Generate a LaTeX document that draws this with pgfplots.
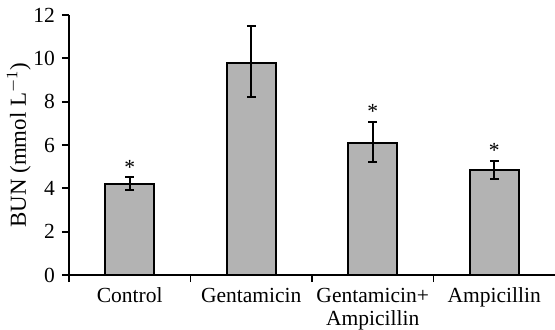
\documentclass[border=0pt]{standalone}
\usepackage{pgfplots}
\pgfplotsset{compat=1.18}
\usepackage{fontspec}
\setmainfont{Liberation Serif}
\definecolor{barfill}{RGB}{179,179,179}
\begin{document}
\begin{tikzpicture}
\path[use as bounding box] (-34.5bp,-27.5bp) rectangle (243bp,137.5bp);
\begin{axis}[
  at={(0,0)}, anchor=south west,
  scale only axis, width=243bp, height=130bp,
  xmin=-0.5, xmax=3.5, ymin=0, ymax=12,
  axis lines*=left,
  axis line style={line width=1pt, -},
  every tick/.style={black, line width=1pt},
  tick align=outside,
  major tick length=3.5bp,
  ytick={0,2,...,12},
  xtick={-0.5,0.5,1.5,2.5},
  xticklabels={},
  extra x ticks={0,1,2,3},
  extra x tick labels={Control,Gentamicin,{Gentamicin+\\Ampicillin},Ampicillin},
  extra x tick style={major tick length=0pt, tick label style={align=center, anchor=north, yshift=-3bp}},
  tick label style={font=\fontsize{10.8}{11.5}\selectfont},
  /pgf/number format/assume math mode=true,
  ylabel={BUN (mmol L$^{-1}$)},
  ylabel style={font=\fontsize{11.5}{14}\selectfont, at={(axis description cs:-0.103,0.5)}, anchor=center},
  clip=false,
]
\addplot[ybar, bar width=24.5bp, fill=barfill, draw=black, line width=1pt,
  error bars/.cd, y dir=both, y explicit,
  error bar style={line width=1pt, black},
  error mark options={rotate=90, mark size=2.2bp, line width=1pt, black}]
  table[x=x, y=y, y error plus=ep, y error minus=em] {
x y ep em
0 4.22 0.32 0.30
1 9.80 1.70 1.60
2 6.10 0.96 0.87
3 4.86 0.41 0.42
};
\addplot[draw=none, mark=none, nodes near coords={*}, point meta=explicit symbolic,
  every node near coord/.append style={anchor=south, font=\fontsize{10.8}{12}\selectfont, inner sep=1pt}]
  table[x=x, y=y, meta=s] {
x y s
0 4.55 *
2 7.10 *
3 5.30 *
};
\end{axis}
\end{tikzpicture}
\end{document}
